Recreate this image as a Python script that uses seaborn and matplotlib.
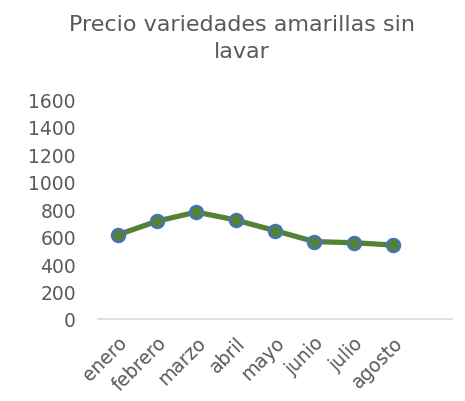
import pandas as pd
import matplotlib.pyplot as plt
import seaborn as sns

# Monthly price values
meses = ['enero', 'febrero', 'marzo', 'abril', 'mayo', 'junio', 'julio', 'agosto']
precio = [612, 712, 778, 720, 643, 563, 555, 538]

df = pd.DataFrame({'Mes': meses, 'Precio': precio})
df['pos'] = range(len(meses))

sns.set_style('white')
plt.rcParams['font.family'] = ['DejaVu Sans']
gris = '#595959'

fig = plt.figure(figsize=(4.65, 4.02), dpi=100)
ax = fig.add_axes([0.211, 0.204, 0.761, 0.547])

sns.lineplot(data=df, x='pos', y='Precio', ax=ax, color='#548235', linewidth=3.8,
             marker='o', markersize=9.5, markerfacecolor='#548235',
             markeredgecolor='#4472C4', markeredgewidth=1.6)

ax.set_xlim(-0.5, 8.5)
ax.set_ylim(0, 1600)
ax.set_yticks(range(0, 1601, 200))
ax.set_xticks(df['pos'])
ax.set_xticklabels(meses, rotation=45, ha='right', rotation_mode='anchor')
ax.tick_params(axis='both', length=0, labelsize=13.5, labelcolor=gris)
ax.tick_params(axis='y', pad=16)
ax.tick_params(axis='x', pad=10)
ax.set_xlabel('')
ax.set_ylabel('')

for s in ['top', 'right', 'left']:
    ax.spines[s].set_visible(False)
ax.spines['bottom'].set_color('#D9D9D9')
ax.spines['bottom'].set_linewidth(1.2)

fig.suptitle('Precio variedades amarillas sin\nlavar', x=0.52, y=0.962,
             fontsize=16, color=gris, linespacing=1.4)

fig.savefig('out.png', dpi=100)
